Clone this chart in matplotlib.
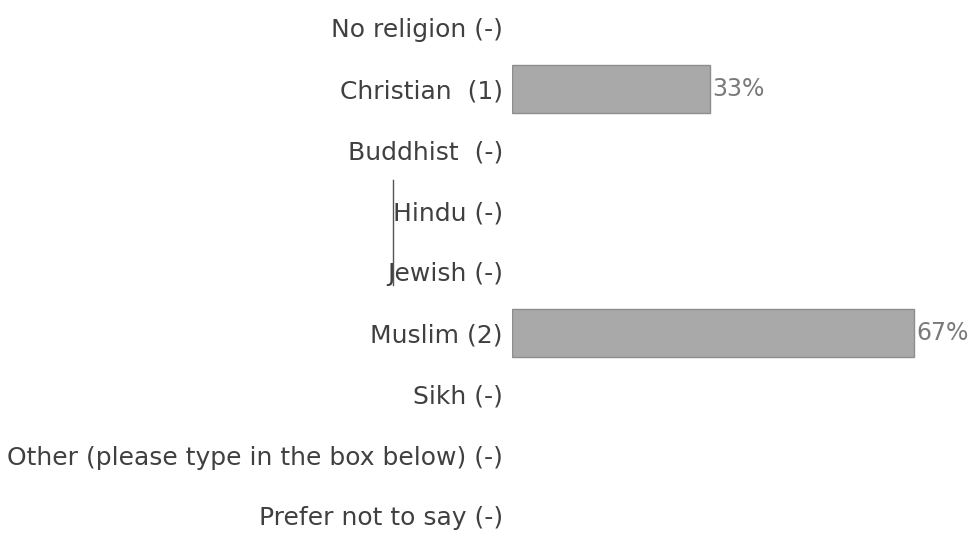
import matplotlib
matplotlib.use("Agg")
import matplotlib.pyplot as plt
from matplotlib.lines import Line2D

categories = ["No religion (-)", "Christian  (1)", "Buddhist  (-)", "Hindu (-)",
              "Jewish (-)", "Muslim (2)", "Sikh (-)",
              "Other (please type in the box below) (-)", "Prefer not to say (-)"]
values = [0, 33, 0, 0, 0, 67, 0, 0, 0]
pct_labels = ["", "33%", "", "", "", "67%", "", "", ""]

plt.rcParams['font.family'] = ['DejaVu Sans']

W, H = 972, 534
fig = plt.figure(figsize=(W/100, H/100), dpi=100)
ax = fig.add_axes([512/W, 0, 460/W, 1])
ax.set_xlim(0, 460/6.0)
top = -28/61
bot = (534-28)/61
ax.set_ylim(bot, top)

ypos = list(range(len(categories)))
for y, v, lab in zip(ypos, values, pct_labels):
    if v > 0:
        ax.barh(y, v, height=0.8, color="#a9a9a9", edgecolor="#8e8e8e", linewidth=1)
        ax.text(v + 0.45, y, lab, va="center", ha="left", fontsize=17, color="#7a7a7a")

ax.set_yticks(ypos)
ax.set_yticklabels(categories, fontsize=18, color="#404040")
ax.tick_params(axis="y", length=0, pad=6.5)
ax.set_xticks([])
for s in ax.spines.values():
    s.set_visible(False)

# stray scan line in the source image
fig.add_artist(Line2D([393/W, 393/W], [1-180/H, 1-285/H], color="#555555", linewidth=1))

fig.savefig("out.png", dpi=100)
